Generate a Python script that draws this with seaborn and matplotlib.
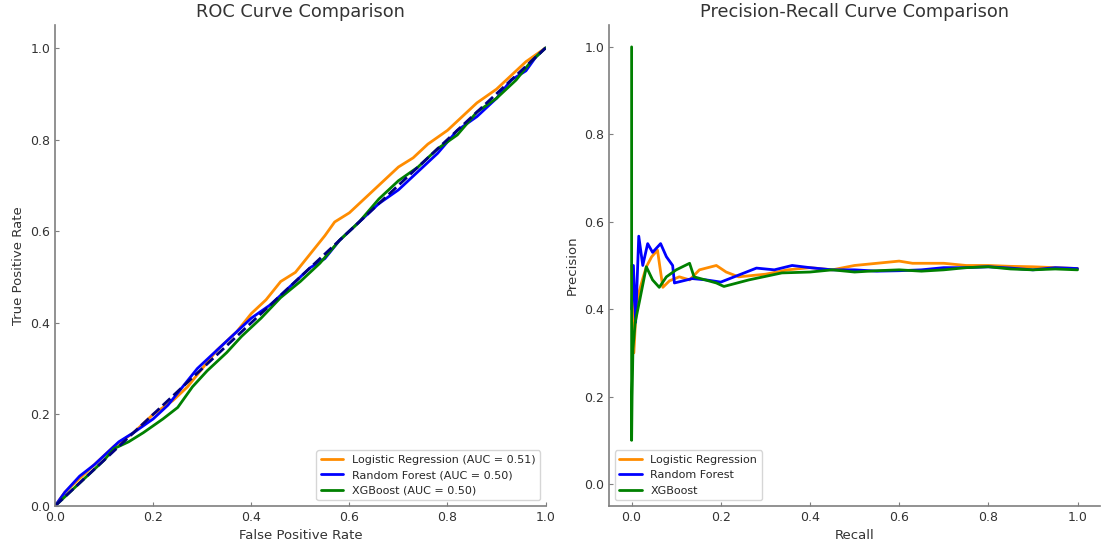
import numpy as np
import pandas as pd
import matplotlib
matplotlib.use('Agg')
import matplotlib.pyplot as plt
import seaborn as sns

# ROC curves
lr_fpr = [0, 0.02, 0.05, 0.08, 0.12, 0.16, 0.2, 0.24, 0.27, 0.3, 0.33, 0.37, 0.4, 0.43, 0.46,
          0.49, 0.52, 0.55, 0.57, 0.6, 0.63, 0.66, 0.7, 0.73, 0.76, 0.8, 0.83, 0.86, 0.9, 0.93, 0.96, 1]
lr_tpr = [0, 0.03, 0.06, 0.09, 0.13, 0.16, 0.2, 0.23, 0.26, 0.3, 0.34, 0.38, 0.42, 0.45, 0.49,
          0.51, 0.55, 0.59, 0.62, 0.64, 0.67, 0.7, 0.74, 0.76, 0.79, 0.82, 0.85, 0.88, 0.91, 0.94, 0.97, 1]

rf_fpr = [0, 0.02, 0.05, 0.08, 0.1, 0.13, 0.16, 0.2, 0.23, 0.26, 0.29, 0.33, 0.36, 0.4, 0.44,
          0.48, 0.52, 0.55, 0.58, 0.62, 0.66, 0.7, 0.74, 0.78, 0.82, 0.86, 0.9, 0.93, 0.96, 0.98, 1]
rf_tpr = [0, 0.03, 0.065, 0.09, 0.11, 0.14, 0.16, 0.19, 0.22, 0.26, 0.3, 0.34, 0.37, 0.41, 0.44,
          0.48, 0.52, 0.54, 0.58, 0.62, 0.66, 0.69, 0.73, 0.77, 0.82, 0.85, 0.89, 0.93, 0.95, 0.98, 1]

xgb_fpr = [0, 0.03, 0.06, 0.1, 0.12, 0.15, 0.18, 0.22, 0.25, 0.28, 0.31, 0.35, 0.38, 0.42, 0.46,
           0.5, 0.54, 0.58, 0.62, 0.66, 0.7, 0.74, 0.78, 0.82, 0.86, 0.9, 0.94, 0.97, 1]
xgb_tpr = [0, 0.03, 0.06, 0.1, 0.125, 0.14, 0.16, 0.19, 0.215, 0.26, 0.295, 0.335, 0.37, 0.41, 0.455,
           0.49, 0.53, 0.58, 0.62, 0.67, 0.71, 0.74, 0.78, 0.81, 0.86, 0.89, 0.93, 0.97, 1]

auc_vals = [0.51, 0.50, 0.50]
model_names = ['Logistic Regression', 'Random Forest', 'XGBoost']
colors = ['darkorange', 'blue', 'green']

# Precision-recall curves
lr_rec = [0, 0.005, 0.01, 0.016, 0.025, 0.033, 0.045, 0.058, 0.07, 0.085, 0.107, 0.13, 0.152, 0.19,
          0.212, 0.24, 0.3, 0.35, 0.4, 0.45, 0.5, 0.55, 0.6, 0.63, 0.7, 0.75, 0.8, 0.85, 0.9, 0.95, 1]
lr_prec = [0.5, 0.3, 0.4, 0.437, 0.47, 0.497, 0.52, 0.535, 0.45, 0.465, 0.474, 0.467, 0.49, 0.5,
           0.485, 0.474, 0.48, 0.49, 0.495, 0.49, 0.5, 0.505, 0.51, 0.505, 0.505, 0.5, 0.5, 0.498,
           0.497, 0.495, 0.493]

rf_rec = [0, 0.004, 0.009, 0.016, 0.025, 0.036, 0.047, 0.065, 0.078, 0.092, 0.096, 0.136, 0.167,
          0.2, 0.28, 0.32, 0.36, 0.4, 0.45, 0.5, 0.55, 0.6, 0.65, 0.7, 0.75, 0.8, 0.85, 0.9, 0.95, 1]
rf_prec = [0.4, 0.5, 0.37, 0.567, 0.5, 0.55, 0.53, 0.55, 0.52, 0.5, 0.46, 0.47, 0.467,
           0.462, 0.494, 0.49, 0.5, 0.495, 0.49, 0.49, 0.487, 0.488, 0.49, 0.495, 0.495, 0.497,
           0.494, 0.49, 0.495, 0.493]

xgb_rec = [0, 0, 0.001, 0.003, 0.008, 0.018, 0.033, 0.047, 0.062, 0.078, 0.1, 0.13, 0.14, 0.19,
           0.207, 0.263, 0.337, 0.4, 0.45, 0.5, 0.55, 0.6, 0.65, 0.7, 0.75, 0.8, 0.85, 0.9, 0.95, 1]
xgb_prec = [1.0, 0.1, 0.2, 0.31, 0.37, 0.42, 0.497, 0.467, 0.45, 0.474, 0.49, 0.505, 0.474, 0.46,
            0.452, 0.467, 0.483, 0.485, 0.49, 0.485, 0.488, 0.49, 0.487, 0.49, 0.495, 0.497,
            0.492, 0.49, 0.492, 0.49]


def build_frame(xs, ys, labels):
    parts = []
    for x, y, lab in zip(xs, ys, labels):
        parts.append(pd.DataFrame({'x': x, 'y': y, 'model': lab}))
    return pd.concat(parts, ignore_index=True)


def main():
    sns.set_style('ticks')
    plt.rcParams['font.family'] = ['DejaVu Sans']
    plt.rcParams['axes.edgecolor'] = '#7f7f7f'
    plt.rcParams['axes.linewidth'] = 1.2
    plt.rcParams['xtick.direction'] = 'in'
    plt.rcParams['ytick.direction'] = 'in'
    plt.rcParams['xtick.major.size'] = 3
    plt.rcParams['ytick.major.size'] = 3
    plt.rcParams['xtick.color'] = '#7f7f7f'
    plt.rcParams['ytick.color'] = '#7f7f7f'
    plt.rcParams['xtick.labelcolor'] = '#333333'
    plt.rcParams['ytick.labelcolor'] = '#333333'
    plt.rcParams['axes.labelcolor'] = '#333333'

    fig, (ax1, ax2) = plt.subplots(1, 2, figsize=(11.02, 5.44), dpi=100)
    fig.subplots_adjust(left=0.05, right=0.998, bottom=0.07, top=0.954, wspace=0.13)

    roc_labels = ['%s (AUC = %.2f)' % (n, a) for n, a in zip(model_names, auc_vals)]
    roc_df = build_frame([lr_fpr, rf_fpr, xgb_fpr], [lr_tpr, rf_tpr, xgb_tpr], roc_labels)
    sns.lineplot(data=roc_df, x='x', y='y', hue='model', palette=colors, sort=False,
                 estimator=None, units='model', linewidth=2, ax=ax1, legend=False)
    for lab, c in zip(roc_labels, colors):
        ax1.plot([], [], color=c, lw=2, label=lab)
    ax1.plot([0, 1], [0, 1], color='navy', lw=2, linestyle='--')
    ax1.set_xlim(0, 1)
    ax1.set_ylim(0, 1.05)
    ax1.set_xlabel('False Positive Rate', fontsize=9.5)
    ax1.set_ylabel('True Positive Rate', fontsize=9.5)
    ax1.set_title('ROC Curve Comparison', fontsize=12.8, color='#333333')
    ax1.legend(loc='lower right', fontsize=8)

    pr_df = build_frame([lr_rec, rf_rec, xgb_rec], [lr_prec, rf_prec, xgb_prec], model_names)
    sns.lineplot(data=pr_df, x='x', y='y', hue='model', palette=colors, sort=False,
                 estimator=None, units='model', linewidth=2, ax=ax2, legend=False)
    for lab, c in zip(model_names, colors):
        ax2.plot([], [], color=c, lw=2, label=lab)
    ax2.set_xlim(-0.05, 1.05)
    ax2.set_ylim(-0.05, 1.05)
    ax2.set_xlabel('Recall', fontsize=9.5)
    ax2.set_ylabel('Precision', fontsize=9.5)
    ax2.set_title('Precision-Recall Curve Comparison', fontsize=12.8, color='#333333')
    ax2.legend(loc='lower left', fontsize=8)

    for ax in (ax1, ax2):
        ax.tick_params(labelsize=9)
        sns.despine(ax=ax)

    fig.savefig('out.png', dpi=100)


if __name__ == "__main__":
    main()
